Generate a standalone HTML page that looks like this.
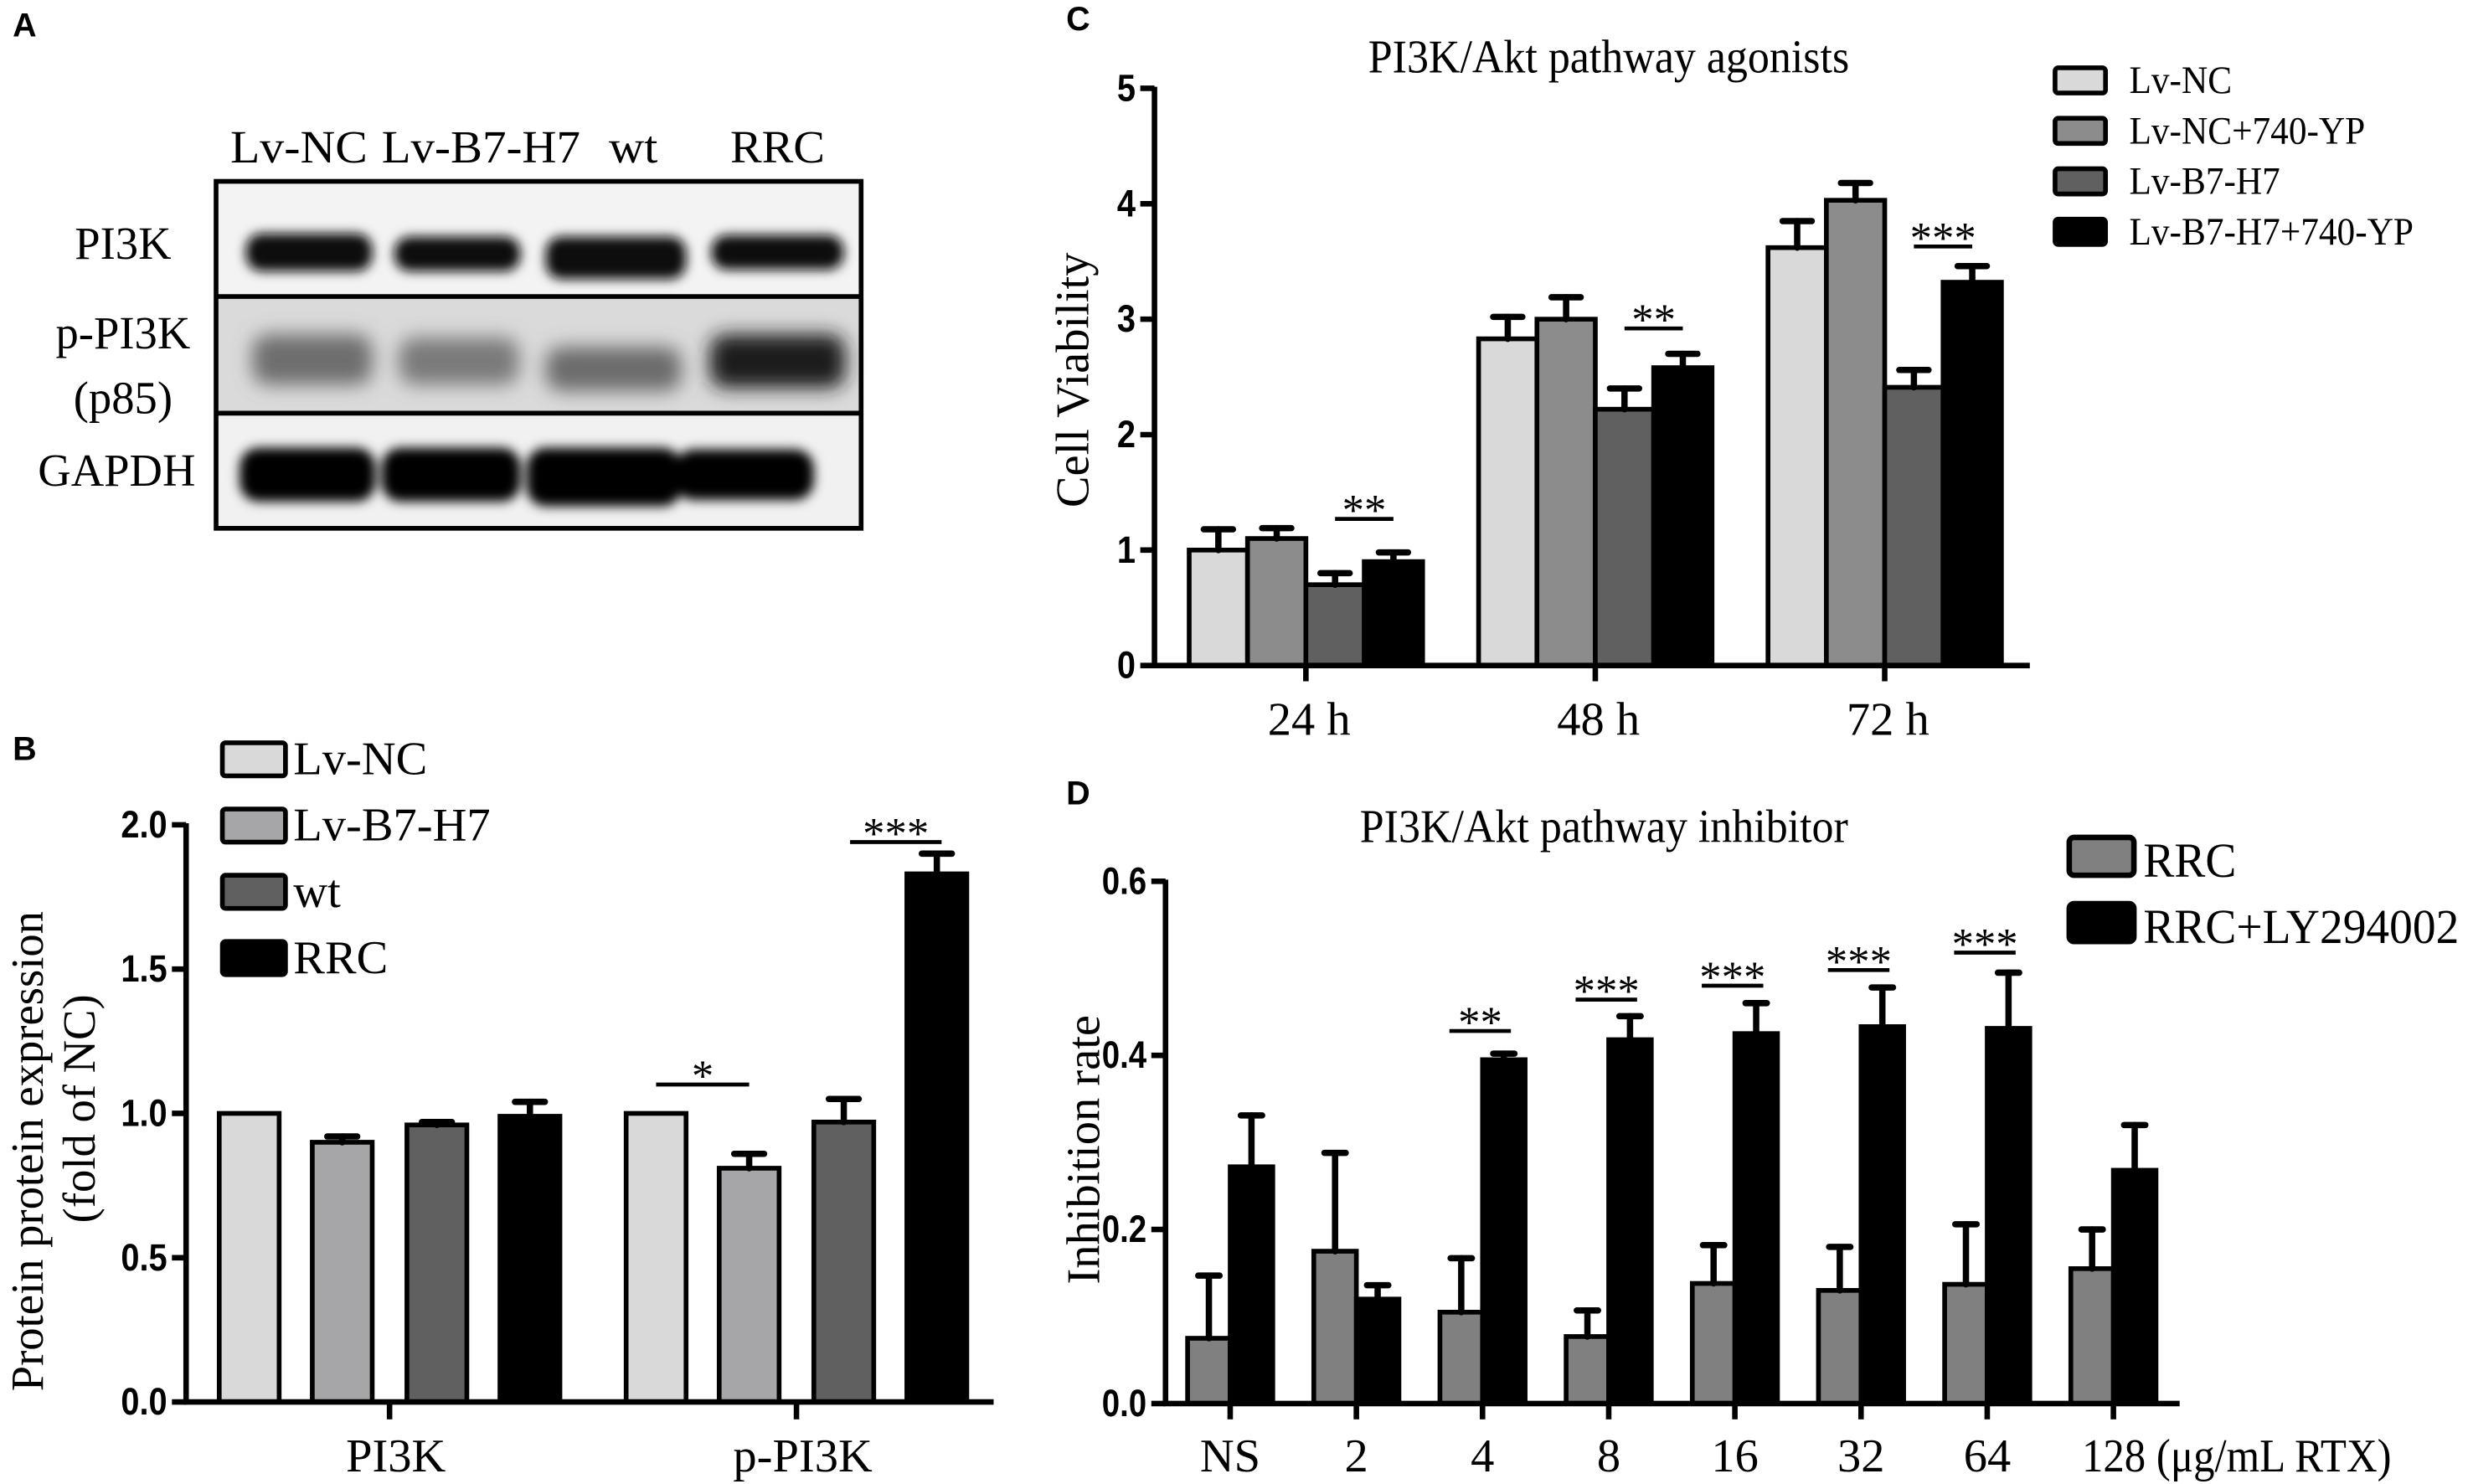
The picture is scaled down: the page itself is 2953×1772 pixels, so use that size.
<!DOCTYPE html>
<html>
<head>
<meta charset="utf-8">
<style>
html,body{margin:0;padding:0;background:#fff;}
svg{display:block;}
.serif{font-family:"Liberation Serif","Times New Roman",serif;}
.sans{font-family:"Liberation Sans",Arial,sans-serif;}
</style>
</head>
<body>
<svg id="fig" width="2953" height="1772" viewBox="0 0 1568 941" preserveAspectRatio="none" xmlns="http://www.w3.org/2000/svg">
  <defs>
    <filter id="blur" x="-20%" y="-50%" width="140%" height="200%"><feGaussianBlur stdDeviation="3.5"/></filter>
    <filter id="blur2" x="-20%" y="-50%" width="140%" height="200%"><feGaussianBlur stdDeviation="6"/></filter>
  </defs>

  <g>
    <text class="sans" x="8" y="23" font-size="21" font-weight="bold">A</text>
    <g class="serif" font-size="29">
      <text x="146" y="103" textLength="87" lengthAdjust="spacingAndGlyphs">Lv-NC</text>
      <text x="242" y="103" textLength="126" lengthAdjust="spacingAndGlyphs">Lv-B7-H7</text>
      <text x="386" y="103" textLength="31" lengthAdjust="spacingAndGlyphs">wt</text>
      <text x="463" y="103" textLength="60" lengthAdjust="spacingAndGlyphs">RRC</text>
    </g>
    <g class="serif" font-size="29" text-anchor="middle">
      <text x="78" y="164">PI3K</text>
      <text x="78" y="221">p-PI3K</text>
      <text x="78" y="262">(p85)</text>
      <text x="74" y="308">GAPDH</text>
    </g>
    <g>
      <rect x="137" y="115" width="409" height="73" fill="#f3f3f3"/>
      <rect x="137" y="188" width="409" height="74" fill="#dadada"/>
      <rect x="137" y="262" width="409" height="73" fill="#f1f1f1"/>
      <g filter="url(#blur)" fill="#0a0a0a">
        <rect x="156" y="148" width="80" height="24" rx="10"/>
        <rect x="250" y="150" width="80" height="22" rx="10"/>
        <rect x="346" y="150" width="89" height="27" rx="10"/>
        <rect x="451" y="149" width="84" height="22" rx="10"/>
      </g>
      <g filter="url(#blur2)">
        <rect x="160" y="212" width="76" height="32" rx="10" fill="#6e6e6e"/>
        <rect x="253" y="214" width="76" height="30" rx="10" fill="#7a7a7a"/>
        <rect x="346" y="220" width="86" height="28" rx="10" fill="#6c6c6c"/>
        <rect x="450" y="212" width="86" height="34" rx="10" fill="#1c1c1c"/>
      </g>
      <g filter="url(#blur)" fill="#050505">
        <rect x="152" y="284" width="86" height="34" rx="12"/>
        <rect x="242" y="284" width="88" height="34" rx="12"/>
        <rect x="334" y="284" width="98" height="37" rx="12"/>
        <rect x="428" y="285" width="88" height="32" rx="12"/>
      </g>
      <rect x="137" y="115" width="409" height="220" fill="none" stroke="#000" stroke-width="3"/>
      <line x1="137" y1="188" x2="546" y2="188" stroke="#000" stroke-width="3"/>
      <line x1="137" y1="262" x2="546" y2="262" stroke="#000" stroke-width="3"/>
    </g>
  </g>

  <g id="panelB"></g>
  <g id="panelC"></g>
  <g id="panelD"></g>
</svg>

<script>
// ---------- Panel B data ----------
const bCategories = ['PI3K', 'p-PI3K'];
const bSeriesNames = ['Lv-NC', 'Lv-B7-H7', 'wt', 'RRC'];
const bLvNC = [1.0, 1.0];
const bLvB7H7 = [0.90, 0.81];
const bWt = [0.96, 0.97];
const bRRC = [0.99, 1.83];
const bLvNCErr = [0, 0];
const bLvB7H7Err = [0.02, 0.05];
const bWtErr = [0.01, 0.08];
const bRRCErr = [0.05, 0.07];
const bTicks = [0, 0.5, 1.0, 1.5, 2.0];
const bSigLabels = ['*', '***'];
const bSigHeights = [1.10, 1.94];

// ---------- Panel C data ----------
const cCategories = ['24 h', '48 h', '72 h'];
const cSeriesNames = ['Lv-NC', 'Lv-NC+740-YP', 'Lv-B7-H7', 'Lv-B7-H7+740-YP'];
const cLvNC = [1.0, 2.83, 3.62];
const cLvNC740 = [1.10, 3.00, 4.03];
const cLvB7H7 = [0.70, 2.22, 2.41];
const cLvB7H7740 = [0.90, 2.58, 3.32];
const cLvNCErr = [0.18, 0.19, 0.23];
const cLvNC740Err = [0.09, 0.19, 0.15];
const cLvB7H7Err = [0.10, 0.18, 0.15];
const cLvB7H7740Err = [0.08, 0.12, 0.14];
const cTicks = [0, 1, 2, 3, 4, 5];
const cSigLabels = ['**', '**', '***'];
const cSigHeights = [1.27, 2.92, 3.63];

// ---------- Panel D data ----------
const dCategories = ['NS', '2', '4', '8', '16', '32', '64', '128 (\u03bcg/mL RTX)'];
const dSeriesNames = ['RRC', 'RRC+LY294002'];
const dRRC = [0.075, 0.175, 0.105, 0.077, 0.138, 0.130, 0.137, 0.155];
const dRRCErr = [0.072, 0.113, 0.062, 0.030, 0.044, 0.050, 0.069, 0.045];
const dLY = [0.272, 0.120, 0.395, 0.418, 0.425, 0.433, 0.431, 0.268];
const dLYErr = [0.059, 0.016, 0.007, 0.027, 0.035, 0.045, 0.064, 0.052];
const dTicks = [0, 0.2, 0.4, 0.6];
const dSigLabels = ['', '', '**', '***', '***', '***', '***', ''];
const dSigHeights = [0, 0, 0.428, 0.464, 0.480, 0.498, 0.518, 0];

const NS = 'http://www.w3.org/2000/svg';
function mk(tag, attrs, parent) {
  const e = document.createElementNS(NS, tag);
  for (const k in attrs) e.setAttribute(k, attrs[k]);
  parent.appendChild(e);
  return e;
}
function txt(parent, x, y, s, size, cls, anchor, weight, sx) {
  const t = mk('text', {x: 0, y: 0, transform: 'translate(' + x + ',' + y + ') scale(' + (sx || 1) + ',1)', 'font-size': size, 'text-anchor': anchor || 'start', 'class': cls, 'font-weight': weight || 'normal'}, parent);
  t.textContent = s;
  return t;
}

function drawBar(parent, x, w, yTop, yBase, fill, name) {
  const r = mk('rect', {x: x, y: yTop, width: w, height: Math.max(0, yBase - yTop), fill: fill, stroke: '#000', 'stroke-width': 3}, parent);
  
  
  return r;
}
function drawErr(parent, cx, yTop, yErr, capW, name) {
  if (Math.abs(yTop - yErr) < 0.5) return;
  const g = mk('g', {stroke: '#000', 'stroke-width': 4, 'stroke-linecap': 'round'}, parent);
  
  
  mk('line', {x1: cx, y1: yTop, x2: cx, y2: yErr}, g);
  mk('line', {x1: cx - capW / 2, y1: yErr, x2: cx + capW / 2, y2: yErr}, g);
}
function drawSig(parent, x1, x2, y, label, name) {
  const g = mk('g', {}, parent);
  
  
  mk('line', {x1: x1, y1: y, x2: x2, y2: y, stroke: '#000', 'stroke-width': 2.5}, g);
  txt(g, (x1 + x2) / 2, y + 4, label, 28, 'serif', 'middle');
}

// ================= Panel B =================
(function () {
  const P = document.getElementById('panelB');
  const x0 = 118, y0 = 889, yScale = 183, xEnd = 630;
  const yB = v => y0 - v * yScale;
  const groupX = i => 247 + i * 258;
  const offs = [-89, -30, 30, 89], bw = 38;
  const fills = ['#d9d9d9', '#a6a6a8', '#606060', '#000000'];
  const vals = [bLvNC, bLvB7H7, bWt, bRRC];
  const errs = [bLvNCErr, bLvB7H7Err, bWtErr, bRRCErr];

  const L = txt(P, 8, 482, 'B', 21, 'sans', 'start', 'bold');
  
  

  for (let s = 0; s < 4; s++) {
    for (let i = 0; i < bCategories.length; i++) {
      const cx = groupX(i) + offs[s];
      drawBar(P, cx - bw / 2, bw, yB(vals[s][i]), y0, fills[s], 'bar-' + bSeriesNames[s].toLowerCase() + '-' + bCategories[i].toLowerCase());
      drawErr(P, cx, yB(vals[s][i]), yB(vals[s][i] + errs[s][i]), bw / 2, 'error-bar-' + bSeriesNames[s].toLowerCase() + '-' + bCategories[i].toLowerCase());
    }
  }
  const ax = mk('g', {stroke: '#000', 'stroke-width': 3.5}, P);
  
  
  mk('line', {x1: x0, y1: yB(2.0) - 1, x2: x0, y2: y0 + 1.5}, ax);
  mk('line', {x1: x0 - 1.5, y1: y0, x2: xEnd, y2: y0}, ax);
  bTicks.forEach(t => {
    mk('line', {x1: x0 - 9, y1: yB(t), x2: x0, y2: yB(t)}, ax);
    const tl = txt(P, x0 - 12, yB(t) + 8, t.toFixed(1), 24, 'sans', 'end', 'bold', 0.88);
    
    
  });
  bCategories.forEach((c, i) => {
    mk('line', {x1: groupX(i), y1: y0, x2: groupX(i), y2: y0 + 11}, ax);
    const cl = txt(P, groupX(i) + 4, 933, c, 30, 'serif', 'middle');
    
    
  });
  const yt = mk('g', {transform: 'translate(27,730) rotate(-90)'}, P);
  
  
  txt(yt, 0, 0, 'Protein protein expression', 29, 'serif', 'middle');
  txt(yt, 27, 33, '(fold of NC)', 29, 'serif', 'middle');
  const c1 = groupX(1);
  drawSig(P, c1 + offs[0], c1 + offs[1], yB(bSigHeights[0]), bSigLabels[0], 'significance-star-lv-nc-vs-lv-b7-h7');
  drawSig(P, c1 + offs[3] - 55, c1 + offs[3] + 3, yB(bSigHeights[1]), bSigLabels[1], 'significance-star-rrc');
  const lgY = [471, 513, 555, 597];
  bSeriesNames.forEach((n, s) => {
    const g = mk('g', {}, P);
    
    
    mk('rect', {x: 141, y: lgY[s], width: 40, height: 21, rx: 2, fill: fills[s], stroke: '#000', 'stroke-width': 3}, g);
    txt(g, 186, lgY[s] + 20, n, 30, 'serif', 'start');
  });
})();

// ================= Panel C =================
(function () {
  const P = document.getElementById('panelC');
  const x0 = 732, y0 = 422, yScale = 73.2, xEnd = 1287;
  const yC = v => y0 - v * yScale;
  const groupX = i => 828 + i * 183.5;
  const offs = [-55.5, -18.5, 18.5, 55.5], bw = 37;
  const fills = ['#d9d9d9', '#8c8c8c', '#606060', '#000000'];
  const vals = [cLvNC, cLvNC740, cLvB7H7, cLvB7H7740];
  const errs = [cLvNCErr, cLvNC740Err, cLvB7H7Err, cLvB7H7740Err];

  const L = txt(P, 676, 19, 'C', 21, 'sans', 'start', 'bold');
  
  
  const T = txt(P, 1020, 46, 'PI3K/Akt pathway agonists', 30, 'serif', 'middle', 'normal', 0.92);
  
  

  for (let s = 0; s < 4; s++) {
    for (let i = 0; i < cCategories.length; i++) {
      const cx = groupX(i) + offs[s];
      drawBar(P, cx - bw / 2, bw, yC(vals[s][i]), y0, fills[s], 'bar-series' + (s + 1) + '-' + cCategories[i].replace(' ', ''));
      drawErr(P, cx, yC(vals[s][i]), yC(vals[s][i] + errs[s][i]), bw / 2, 'error-bar-series' + (s + 1) + '-' + cCategories[i].replace(' ', ''));
    }
  }
  const ax = mk('g', {stroke: '#000', 'stroke-width': 3.5}, P);
  
  
  mk('line', {x1: x0, y1: yC(5) - 1, x2: x0, y2: y0 + 1.5}, ax);
  mk('line', {x1: x0 - 1.5, y1: y0, x2: xEnd, y2: y0}, ax);
  cTicks.forEach(t => {
    mk('line', {x1: x0 - 9, y1: yC(t), x2: x0, y2: yC(t)}, ax);
    const tl = txt(P, x0 - 12, yC(t) + 8, String(t), 24, 'sans', 'end', 'bold', 0.88);
    
    
  });
  cCategories.forEach((c, i) => {
    mk('line', {x1: groupX(i), y1: y0, x2: groupX(i), y2: y0 + 10}, ax);
    const cl = txt(P, groupX(i) + 2, 466, c, 30, 'serif', 'middle');
    
    
  });
  const yt = mk('g', {transform: 'translate(690,241) rotate(-90)'}, P);
  
  
  txt(yt, 0, 0, 'Cell Viability', 30, 'serif', 'middle');

  cCategories.forEach((c, i) => {
    drawSig(P, groupX(i) + offs[2], groupX(i) + offs[3], yC(cSigHeights[i]), cSigLabels[i], 'significance-' + c.replace(' ', ''));
  });

  const lgY = [43, 75, 107, 139];
  cSeriesNames.forEach((n, s) => {
    const g = mk('g', {}, P);
    
    
    mk('rect', {x: 1303, y: lgY[s], width: 32, height: 16, rx: 2, fill: fills[s], stroke: '#000', 'stroke-width': 3}, g);
    txt(g, 1350, lgY[s] + 16, n, 25, 'serif', 'start', 'normal', 0.92);
  });
})();

// ================= Panel D =================
(function () {
  const P = document.getElementById('panelD');
  const x0 = 739, y0 = 890, yScale = 552, xEnd = 1382;
  const yD = v => y0 - v * yScale;
  const tickX = i => 780 + i * 80;
  const bw = 27;
  const fills = ['#808080', '#000000'];

  const L = txt(P, 676, 510, 'D', 21, 'sans', 'start', 'bold');
  
  
  const T = txt(P, 1017, 534, 'PI3K/Akt pathway inhibitor', 30, 'serif', 'middle', 'normal', 0.92);
  
  

  for (let i = 0; i < dCategories.length; i++) {
    const xg = tickX(i);
    drawBar(P, xg - bw, bw, yD(dRRC[i]), y0, fills[0], 'bar-rrc-' + i);
    drawErr(P, xg - bw / 2, yD(dRRC[i]), yD(dRRC[i] + dRRCErr[i]), bw / 2, 'error-bar-rrc-' + i);
    drawBar(P, xg, bw, yD(dLY[i]), y0, fills[1], 'bar-rrc-ly294002-' + i);
    drawErr(P, xg + bw / 2, yD(dLY[i]), yD(dLY[i] + dLYErr[i]), bw / 2, 'error-bar-rrc-ly294002-' + i);
  }
  const ax = mk('g', {stroke: '#000', 'stroke-width': 3.5}, P);
  
  
  mk('line', {x1: x0, y1: yD(0.6) - 1, x2: x0, y2: y0 + 1.5}, ax);
  mk('line', {x1: x0 - 1.5, y1: y0, x2: xEnd, y2: y0}, ax);
  dTicks.forEach(t => {
    mk('line', {x1: x0 - 9, y1: yD(t), x2: x0, y2: yD(t)}, ax);
    const tl = txt(P, x0 - 12, yD(t) + 8, t.toFixed(1), 24, 'sans', 'end', 'bold', 0.85);
    
    
  });
  dCategories.forEach((c, i) => {
    mk('line', {x1: tickX(i), y1: y0, x2: tickX(i), y2: y0 + 10}, ax);
    const last = i === dCategories.length - 1;
    const cl = txt(P, last ? tickX(i) - 20 : tickX(i), 933, c, 30, 'serif', last ? 'start' : 'middle', 'normal', last ? 0.9 : 1);
    
    
  });
  const yt = mk('g', {transform: 'translate(697,729) rotate(-90)'}, P);
  
  
  txt(yt, 0, 0, 'Inhibition rate', 30, 'serif', 'middle');

  dCategories.forEach((c, i) => {
    if (!dSigLabels[i]) return;
    drawSig(P, tickX(i) - 21, tickX(i) + 18, yD(dSigHeights[i]), dSigLabels[i], 'significance-' + i);
  });

  const lgY = [531, 573];
  dSeriesNames.forEach((n, s) => {
    const g = mk('g', {}, P);
    
    
    mk('rect', {x: 1312, y: lgY[s], width: 41, height: 24, rx: 3, fill: fills[s], stroke: '#000', 'stroke-width': 3.5}, g);
    txt(g, 1359, lgY[s] + 25, n, 31, 'serif', 'start', 'normal', 0.95);
  });
})();
</script>
</body>
</html>
